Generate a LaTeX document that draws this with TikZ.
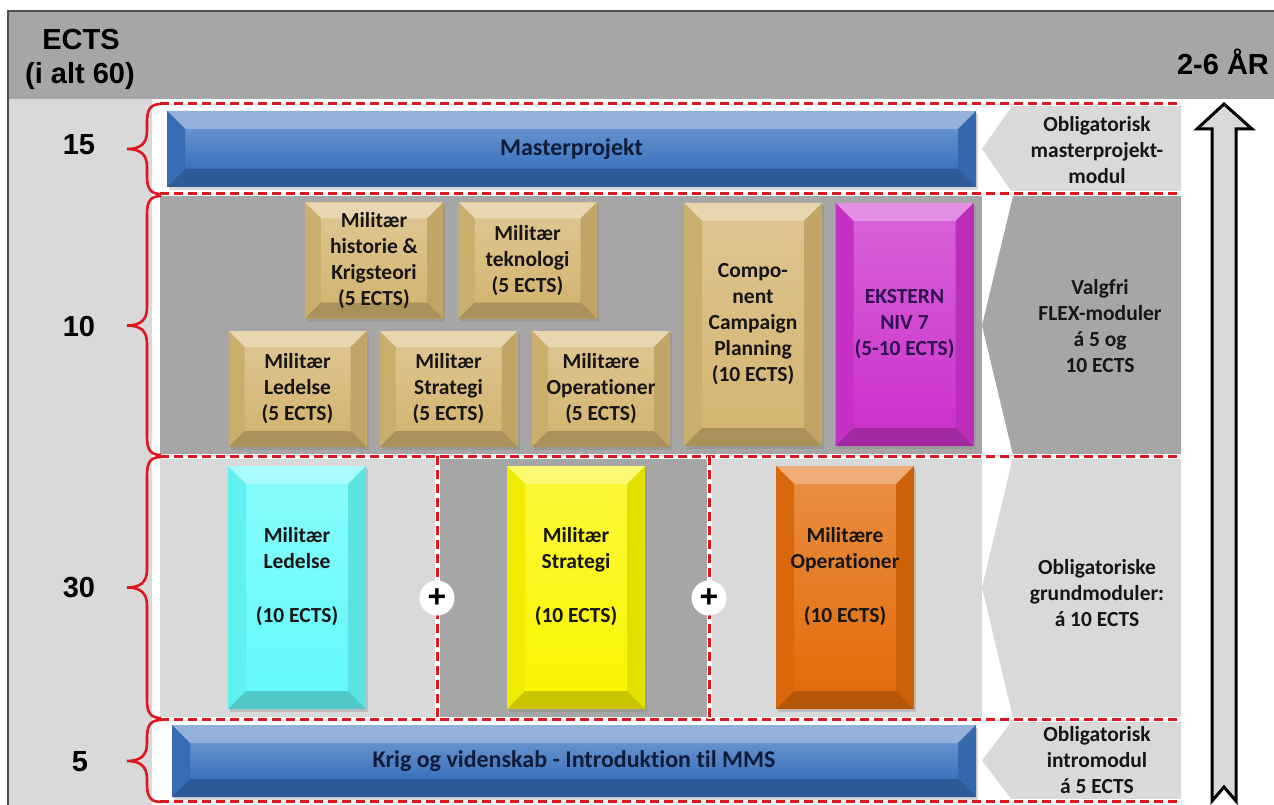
\documentclass[tikz,border=0pt]{standalone}
\usepackage{fontspec}
\setmainfont{Carlito}[Ligatures=NoCommon]
\newfontfamily\arialfont{Liberation Sans}
\usetikzlibrary{calc,shadows}
\definecolor{mblue}{RGB}{58,114,190}
\definecolor{tanc}{RGB}{212,180,112}
\definecolor{magc}{RGB}{204,51,204}
\definecolor{cyanc}{RGB}{100,250,250}
\definecolor{yelc}{RGB}{250,245,0}
\definecolor{orac}{RGB}{226,108,10}
\definecolor{dgray}{RGB}{166,166,166}
\definecolor{lgray}{RGB}{217,217,217}
\definecolor{redd}{RGB}{222,22,30}
\definecolor{txt}{RGB}{22,22,22}
\definecolor{bluetxt}{RGB}{14,28,58}
\definecolor{purtxt}{RGB}{48,18,80}
\definecolor{framec}{RGB}{80,80,80}
\newcommand\boxfont{\fontsize{21.5}{26}\selectfont\bfseries}
\newcommand\barfont{\fontsize{24}{28}\selectfont\bfseries}
\newcommand\headfont{\arialfont\fontsize{29}{34}\selectfont\bfseries}
\newcommand\ectsbrace[2]{%
  \pgfmathsetmacro\ebA{#1+18}\pgfmathsetmacro\ebM{(#1+#2)/2}%
  \pgfmathsetmacro\ebMa{\ebM-18}\pgfmathsetmacro\ebMb{\ebM+18}\pgfmathsetmacro\ebB{#2-18}%
  \draw[bracestyle] (161,#1) .. controls (150,#1) and (147,#1+6) .. (147,\ebA)
    -- (147,\ebMa) .. controls (147,\ebM-5) and (140,\ebM) .. (127,\ebM)
    .. controls (140,\ebM) and (147,\ebM+5) .. (147,\ebMb)
    -- (147,\ebB) .. controls (147,#2-6) and (150,#2) .. (161,#2);}
\tikzset{
  bevel/.style 2 args={rectangle, inner sep=0pt, fill=#1, draw=none, align=center,
    drop shadow={shadow xshift=2pt, shadow yshift=-3pt, opacity=0.3},
    path picture={
      \coordinate (pA) at (path picture bounding box.north west);
      \coordinate (pB) at (path picture bounding box.north east);
      \coordinate (pC) at (path picture bounding box.south east);
      \coordinate (pD) at (path picture bounding box.south west);
      \coordinate (qA) at ($(pA)+(#2,-#2)$);
      \coordinate (qB) at ($(pB)+(-#2,-#2)$);
      \coordinate (qC) at ($(pC)+(-#2,#2)$);
      \coordinate (qD) at ($(pD)+(#2,#2)$);
      \shade[top color=#1!78!white, bottom color=#1] (qA) rectangle (qC);
      \fill[#1!55!white] (pA) -- (pB) -- (qB) -- (qA) -- cycle;
      \fill[#1!96!black] (pA) -- (qA) -- (qD) -- (pD) -- cycle;
      \fill[#1!91!black] (pB) -- (qB) -- (qC) -- (pC) -- cycle;
      \fill[#1!80!black] (pD) -- (qD) -- (qC) -- (pC) -- cycle;
    }},
  smallbox/.style={bevel={tanc}{16pt}, minimum width=138pt, minimum height=116pt, text=txt, font=\boxfont},
  tallbox/.style 2 args={bevel={#1}{18pt}, minimum width=138pt, minimum height=243pt, text=#2, font=\boxfont},
  barbox/.style={bevel={mblue}{18pt}, text=bluetxt, font=\barfont},
  lbl/.style={align=center, text=txt, font=\boxfont, inner sep=0pt},
  num/.style={text=black, font=\headfont, inner sep=0pt},
  bracestyle/.style={draw=redd, line width=2.6pt},
  whiteline/.style={draw=white, line width=5pt},
  redline/.style={draw=redd, line width=3pt, dash pattern=on 9pt off 5pt},
  plus/.style={circle, fill=white, minimum size=35pt, inner sep=0pt, font=\arialfont\fontsize{32}{32}\selectfont\bfseries, text=black},
}
\begin{document}
\begin{tikzpicture}[x=1pt,y=-1pt]
\useasboundingbox (0,0) rectangle (1274,805);
% frame, header, left column
\fill[white] (0,0) rectangle (1274,805);
\fill[dgray] (9,12) rectangle (1274,99);
\fill[lgray] (9,99) rectangle (152,805);
\draw[framec, line width=2pt] (8,805) -- (8,11) -- (1274,11);
% row backgrounds
\fill[dgray] (160,196) rectangle (982,455);
\fill[lgray] (160,457) rectangle (982,718);
% label pentagons
\fill[lgray] (1012,106) -- (1181,106) -- (1181,192) -- (1012,192) -- (982,149) -- cycle;
\fill[dgray] (1013,196) -- (1181,196) -- (1181,455) -- (1013,455) -- (982,325.5) -- cycle;
\fill[lgray] (1013,457) -- (1181,457) -- (1181,718) -- (1013,718) -- (982,587.5) -- cycle;
\fill[lgray] (1012,721) -- (1181,721) -- (1181,800) -- (1012,800) -- (982,760.5) -- cycle;
% inner dashed area
\fill[dgray] (437,457) rectangle (709,718);
% dashed separators
\foreach \yy in {104,194,456,719,801}{
  \draw[whiteline] (158,\yy) -- (1181,\yy);
  \draw[redline] (160,\yy) -- (1181,\yy);
}
\draw[whiteline] (437,456) -- (437,719) (709,456) -- (709,719);
\draw[redline] (437,456) -- (437,719) (709,456) -- (709,719);
% braces
\ectsbrace{104}{194}
\ectsbrace{196}{455}
\ectsbrace{457}{718}
\ectsbrace{720}{802}
% header texts
\node[num] (ects) at (81,40) {ECTS};
\node[num] (ialt) at (80,76) {(i alt 60)};
\node[num] (aar) at (1223,62) {2-6 ÅR};
\node[num] (n15) at (79,145) {15};
\node[num] (n10) at (79,327) {10};
\node[num] (n30) at (79,588) {30};
\node[num] (n5) at (80,762) {5};
% boxes row 1
\node[barbox, minimum width=809pt, minimum height=76pt] (master) at (571.5,149) {Masterprojekt};
% boxes row 2
\node[smallbox] (hist) at (374,260.5) {Militær\\historie \&\\Krigsteori\\(5 ECTS)};
\node[smallbox] (tek) at (527.5,260.5) {Militær\\teknologi\\(5 ECTS)};
\node[smallbox] (fled) at (297.5,389) {Militær\\Ledelse\\(5 ECTS)};
\node[smallbox] (fstr) at (448.5,389) {Militær\\Strategi\\(5 ECTS)};
\node[smallbox] (fops) at (601,389) {Militære\\Operationer\\(5 ECTS)};
\node[tallbox={tanc}{txt}] (comp) at (753,324.5) {Compo-\\nent\\Campaign\\Planning\\(10 ECTS)};
\node[tallbox={magc}{purtxt}] (ekst) at (904.5,324.5) {EKSTERN\\NIV 7\\(5-10 ECTS)};
% boxes row 3
\node[tallbox={cyanc}{txt}] (gled) at (297,587.5) {};
\node[tallbox={yelc}{txt}] (gstr) at (576,587.5) {};
\node[tallbox={orac}{txt}] (gops) at (845,587.5) {};
\node[lbl] (gledT) at ([yshift=11pt]gled.center) {Militær\\Ledelse\\[28pt](10 ECTS)};
\node[lbl] (gstrT) at ([yshift=11pt]gstr.center) {Militær\\Strategi\\[28pt](10 ECTS)};
\node[lbl] (gopsT) at ([yshift=11pt]gops.center) {Militære\\Operationer\\[28pt](10 ECTS)};
\node[plus] (plusA) at (437,598) {+};
\node[plus] (plusB) at (709,598) {+};
% row 4
\node[barbox, minimum width=804pt, minimum height=72pt] (intro) at (574,761) {Krig og videnskab - Introduktion til MMS};
% labels
\node[lbl] (lab1) at (1097,150) {Obligatorisk\\masterprojekt-\\modul};
\node[lbl] (lab2) at (1100,326) {Valgfri\\FLEX-moduler\\á 5 og\\10 ECTS};
\node[lbl] (lab3) at (1097,593) {Obligatoriske\\grundmoduler:\\á 10 ECTS};
\node[lbl] (lab4) at (1097,760) {Obligatorisk\\intromodul\\á 5 ECTS};
% time arrow
\draw[black, line width=3pt, fill=lgray, line join=miter]
  (1224,104) -- (1252,129) -- (1236,129) -- (1236,801) -- (1224,787) -- (1212,801) -- (1212,129) -- (1197,129) -- cycle;
\end{tikzpicture}
\end{document}
